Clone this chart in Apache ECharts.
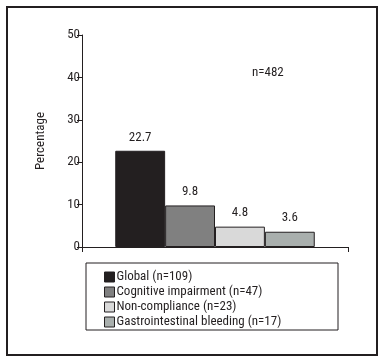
<!DOCTYPE html>
<html>
<head>
<meta charset="utf-8">
<script src="https://cdn.jsdelivr.net/npm/echarts@6/dist/echarts.min.js"></script>
<style>
    html, body { margin: 0; padding: 0; background: #fff; }
    #chart { width: 385px; height: 360px; }
</style>
</head>
<body>
<div id="chart"></div>
<script>
// 数据
var groupNames = ['Global (n=109)', 'Cognitive impairment (n=47)', 'Non-compliance (n=23)', 'Gastrointestinal bleeding (n=17)'];
var groupValues = [22.7, 9.8, 4.8, 3.6];
var groupColors = ['#231f20', '#808080', '#d9d9d9', '#a9afad'];
var yTicks = [0, 10, 20, 30, 40, 50];
var totalNote = 'n=482';

var font = "'Roboto Condensed', 'Liberation Sans', sans-serif";
var ink = '#231f20';

var myChart = echarts.init(document.getElementById('chart'));

var series = groupNames.map(function (name, i) {
    return {
        name: name,
        type: 'bar',
        data: [groupValues[i]],
        barGap: 0,
        barCategoryGap: '25%',
        itemStyle: {
            color: groupColors[i],
            borderColor: ink,
            borderWidth: 1
        },
        label: {
            show: true,
            position: 'top',
            distance: 7,
            color: ink,
            fontFamily: font,
            fontSize: 13
        },
        emphasis: {disabled: true}
    };
});

var option = {
    animation: false,
    backgroundColor: '#fff',
    grid: {
        left: 82,
        right: 37,
        top: 35,
        bottom: 113
    },
    xAxis: {
        type: 'category',
        data: [''],
        axisLine: {lineStyle: {color: ink, width: 1}},
        axisTick: {show: true, length: 5, lineStyle: {color: ink}},
        axisLabel: {show: false}
    },
    yAxis: {
        type: 'value',
        min: yTicks[0],
        max: yTicks[yTicks.length - 1],
        interval: yTicks[1] - yTicks[0],
        name: 'Percentage',
        nameLocation: 'middle',
        nameGap: 35,
        nameRotate: 90,
        nameTextStyle: {color: ink, fontFamily: font, fontSize: 13},
        axisLine: {show: true, lineStyle: {color: ink, width: 1}},
        axisTick: {show: true, length: 5, lineStyle: {color: ink}},
        axisLabel: {color: ink, fontFamily: font, fontSize: 13, margin: 2},
        splitLine: {show: false}
    },
    legend: {
        orient: 'vertical',
        left: 99,
        top: 265,
        itemWidth: 10,
        itemHeight: 10,
        itemGap: 1,
        icon: 'rect',
        data: groupNames,
        itemStyle: {borderColor: ink, borderWidth: 1},
        textStyle: {color: ink, fontFamily: font, fontSize: 13, lineHeight: 14, padding: [0, 0, 0, -3]},
        selectedMode: false
    },
    graphic: [
        {
            type: 'rect',
            shape: {x: 7, y: 7, width: 370, height: 348},
            style: {fill: null, stroke: ink, lineWidth: 2},
            silent: true
        },
        {
            type: 'rect',
            shape: {x: 86, y: 263, width: 252, height: 67},
            style: {fill: null, stroke: ink, lineWidth: 1},
            silent: true
        },
        {
            type: 'text',
            left: 252,
            top: 66,
            style: {text: totalNote, fill: ink, font: '13px ' + font}
        }
    ],
    series: series
};

if (option && typeof option === "object") {
    myChart.setOption(option, true);
}
</script>
</body>
</html>
